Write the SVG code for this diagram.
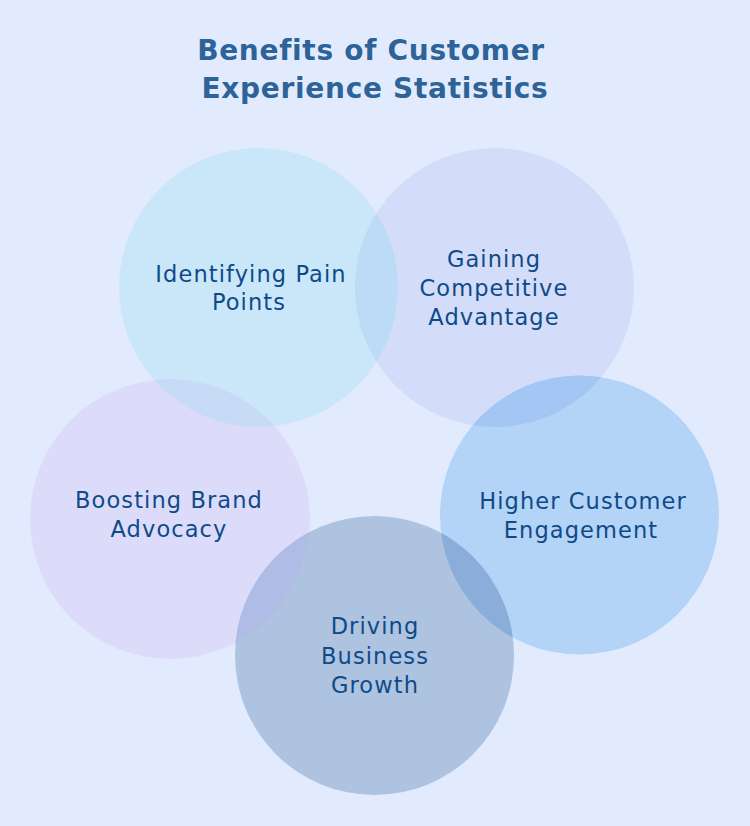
<svg xmlns="http://www.w3.org/2000/svg" width="750" height="826" viewBox="0 0 750 826">
<defs>
<clipPath id="cPain"><circle cx="258.5" cy="287.5" r="139.5"/></clipPath>
<clipPath id="cGain"><circle cx="494.5" cy="287.5" r="139.5"/></clipPath>
<clipPath id="cBoost"><circle cx="170" cy="519" r="140"/></clipPath>
<clipPath id="cHigh"><circle cx="579.5" cy="515" r="139.5"/></clipPath>
</defs>
<style>
.title{font-family:"DejaVu Sans","Liberation Sans",sans-serif;font-weight:bold;font-size:28px;fill:#2d6398;text-anchor:middle;letter-spacing:0.7px}
.lbl{font-family:"DejaVu Sans","Liberation Sans",sans-serif;font-size:22.5px;fill:#0f4a88;text-anchor:middle;letter-spacing:1.1px}
</style>
<rect x="0" y="0" width="750" height="826" fill="#e2ebfd"/>
<g id="title">
<text class="title" x="371" y="60">Benefits of Customer</text>
<text class="title" x="375" y="98">Experience Statistics</text>
</g>
<g id="node-pain">
<circle cx="258.5" cy="287.5" r="139.5" fill="#c9e7f9"/>
</g>
<g id="node-gain">
<circle cx="494.5" cy="287.5" r="139.5" fill="#d3ddf9"/>
<circle cx="494.5" cy="287.5" r="139.5" fill="#bcdbf6" clip-path="url(#cPain)"/>
</g>
<g id="node-boost">
<circle cx="170" cy="519" r="140" fill="#dcdcfa"/>
<circle cx="170" cy="519" r="140" fill="#c8dbf6" clip-path="url(#cPain)"/>
</g>
<g id="node-high">
<circle cx="579.5" cy="515" r="139.5" fill="#b3d3f7"/>
<circle cx="579.5" cy="515" r="139.5" fill="#a3c6f4" clip-path="url(#cGain)"/>
</g>
<g id="node-drive">
<circle cx="374.5" cy="655.5" r="139.5" fill="#adc3e0"/>
<circle cx="374.5" cy="655.5" r="139.5" fill="#afbde6" clip-path="url(#cBoost)"/>
<circle cx="374.5" cy="655.5" r="139.5" fill="#8aaed9" clip-path="url(#cHigh)"/>
</g>
<g id="labels">
<text class="lbl" x="251" y="282">Identifying Pain</text>
<text class="lbl" x="249" y="310">Points</text>
<text class="lbl" x="494" y="267">Gaining</text>
<text class="lbl" x="494" y="296">Competitive</text>
<text class="lbl" x="494" y="325">Advantage</text>
<text class="lbl" x="169" y="508">Boosting Brand</text>
<text class="lbl" x="169" y="537">Advocacy</text>
<text class="lbl" x="583" y="509">Higher Customer</text>
<text class="lbl" x="581" y="538">Engagement</text>
<text class="lbl" x="375" y="634">Driving</text>
<text class="lbl" x="375" y="664">Business</text>
<text class="lbl" x="375" y="693">Growth</text>
</g>
</svg>
